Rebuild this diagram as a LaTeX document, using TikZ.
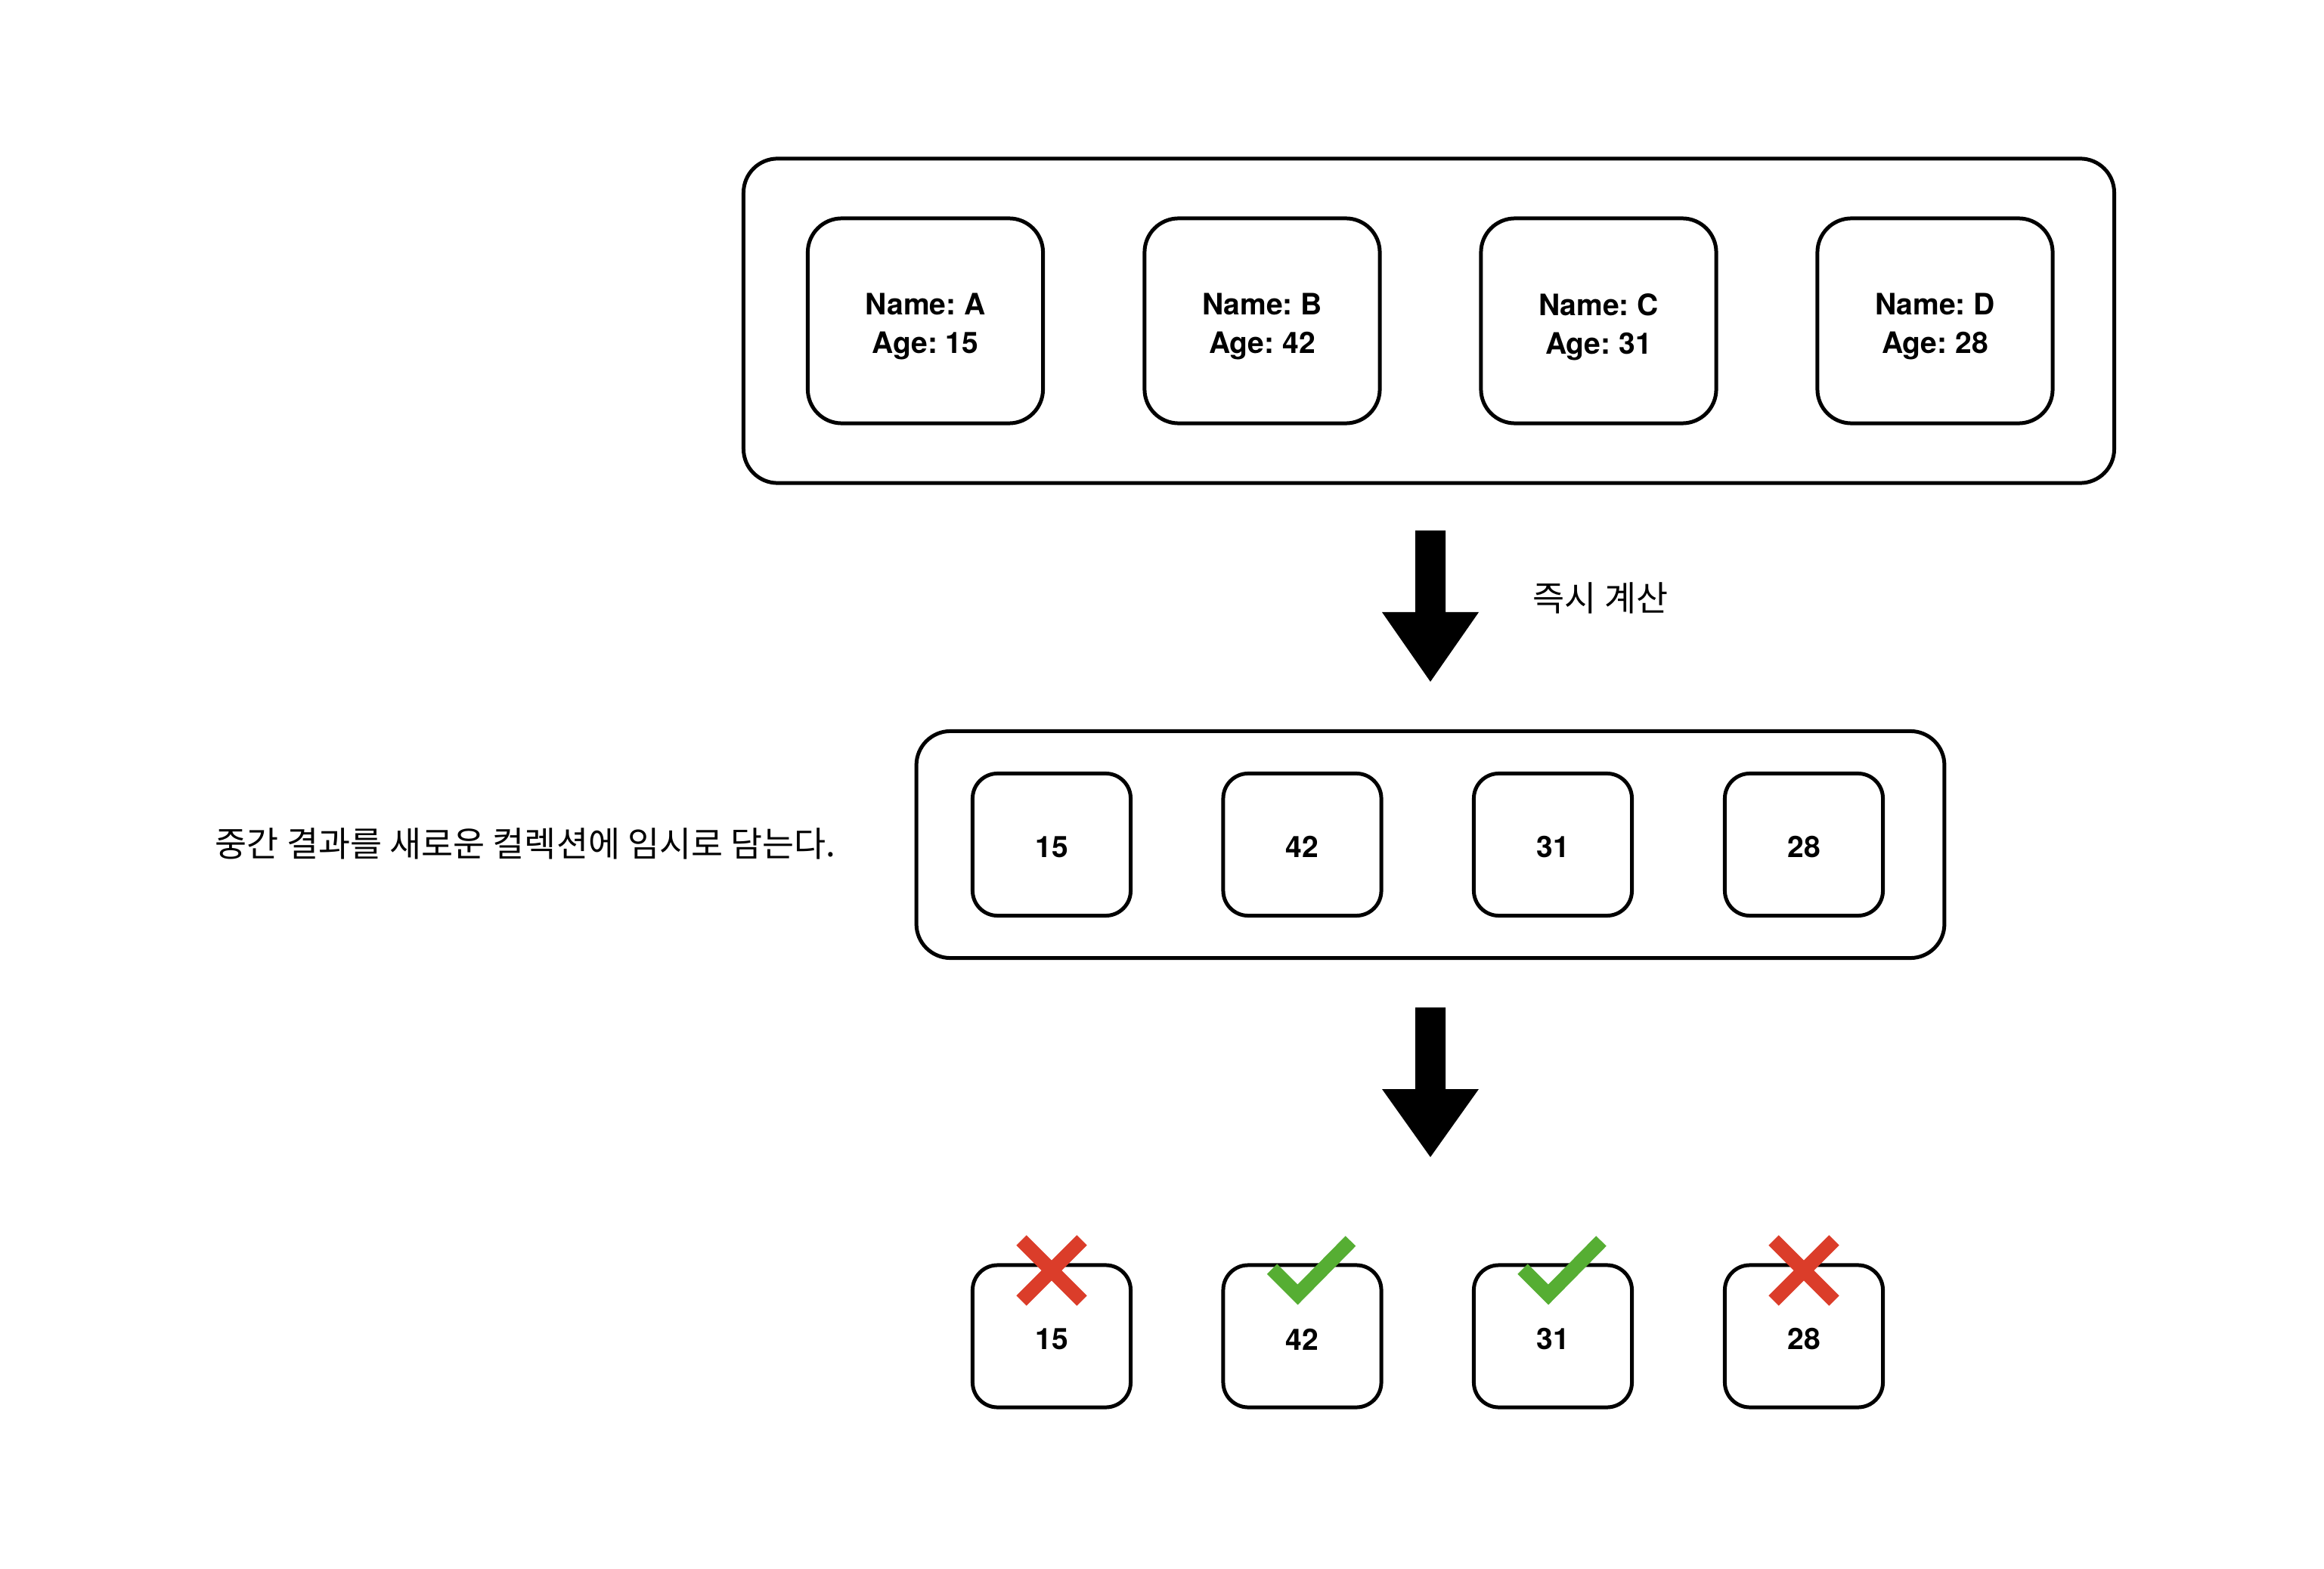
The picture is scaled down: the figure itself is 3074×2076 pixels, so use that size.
\documentclass[tikz,border=0pt]{standalone}
\usepackage{fontspec}
\setmainfont{TeX Gyre Heros}
\newfontfamily\krfont{Noto Sans CJK KR}
\definecolor{xred}{HTML}{DB3D2A}
\definecolor{cgreen}{HTML}{56AE33}
\begin{document}
\frenchspacing
\begin{tikzpicture}[x=0.01cm,y=-0.01cm,
  box/.style={draw=black, line width=1.42pt, fill=white, inner sep=0pt},
  boxtext/.style={inner sep=0pt, align=center, font=\bfseries\fontsize{11.1}{14.5}\selectfont},
  bigbox/.style={box, minimum width=3.11cm, minimum height=2.71cm, rounded corners=0.45cm},
  smallbox/.style={box, minimum width=2.09cm, minimum height=1.88cm, rounded corners=0.33cm},
  frame/.style={draw=black, line width=1.42pt, rounded corners=0.45cm, inner sep=0pt},
  label/.style={inner sep=0pt, anchor=west, font=\krfont\fontsize{13}{15}\selectfont},
  xmark/.style={draw=xred, line width=0.19cm},
  cmark/.style={draw=cgreen, line width=0.19cm, line join=miter, miter limit=10}]
\useasboundingbox[fill=white] (0,0) rectangle (3074,2076);

% top collection
\node[frame, minimum width=18.12cm, minimum height=4.29cm] (top) at (1890,424.5) {};
\node[bigbox] (pa) at (1224,424.5) {};
\node[bigbox] (pb) at (1669.5,424.5) {};
\node[bigbox] (pc) at (2114.5,424.5) {};
\node[bigbox] (pd) at (2559.5,424.5) {};
\node[boxtext] (pat) at ([yshift=-0.08cm]pa.center) {Name: A\\Age: 15};
\node[boxtext] (pbt) at ([yshift=-0.08cm]pb.center) {Name: B\\Age: 42};
\node[boxtext] (pct) at ([yshift=-0.08cm]pc.center) {Name: C\\Age: 31};
\node[boxtext] (pdt) at ([yshift=-0.08cm]pd.center) {Name: D\\Age: 28};

% arrow 1
\fill[black] (1872,702) -- (1912,702) -- (1912,810) -- (1956,810) -- (1892,902)
  -- (1828,810) -- (1872,810) -- cycle;
\node[label] (calc) at (2027,791) {즉시 계산};

% middle collection
\node[frame, minimum width=13.59cm, minimum height=3.00cm] (mid) at (1892,1117.5) {};
\node[smallbox] (m1) at (1391,1117.5) {};
\node[smallbox] (m2) at (1722.5,1117.5) {};
\node[smallbox] (m3) at (2054,1117.5) {};
\node[smallbox] (m4) at (2386,1117.5) {};
\node[boxtext] (m1t) at ([yshift=-0.03cm]m1.center) {15};
\node[boxtext] (m2t) at ([yshift=-0.03cm]m2.center) {42};
\node[boxtext] (m3t) at ([yshift=-0.03cm]m3.center) {31};
\node[boxtext] (m4t) at ([yshift=-0.03cm]m4.center) {28};
\node[label] (note) at (284,1116) {중간 결과를 새로운 컬렉션에 임시로 담는다.};

% arrow 2
\fill[black] (1872,1333) -- (1912,1333) -- (1912,1441) -- (1956,1441) -- (1892,1531)
  -- (1828,1441) -- (1872,1441) -- cycle;

% bottom results
\node[smallbox] (b1) at (1391,1768) {};
\node[smallbox] (b2) at (1722.5,1768) {};
\node[smallbox] (b3) at (2054,1768) {};
\node[smallbox] (b4) at (2386,1768) {};
\node[boxtext] (b1t) at ([yshift=-0.04cm]b1.center) {15};
\node[boxtext] (b2t) at ([yshift=-0.04cm]b2.center) {42};
\node[boxtext] (b3t) at ([yshift=-0.04cm]b3.center) {31};
\node[boxtext] (b4t) at ([yshift=-0.04cm]b4.center) {28};

% marks
\draw[xmark] (1351,1641) -- (1431,1721) (1431,1641) -- (1351,1721);
\draw[xmark] (2346,1641) -- (2426,1721) (2426,1641) -- (2346,1721);
\draw[cmark] (1682.5,1679) -- (1716.5,1713) -- (1786.5,1642);
\draw[cmark] (2014,1679) -- (2048,1713) -- (2118,1642);
\end{tikzpicture}
\end{document}
